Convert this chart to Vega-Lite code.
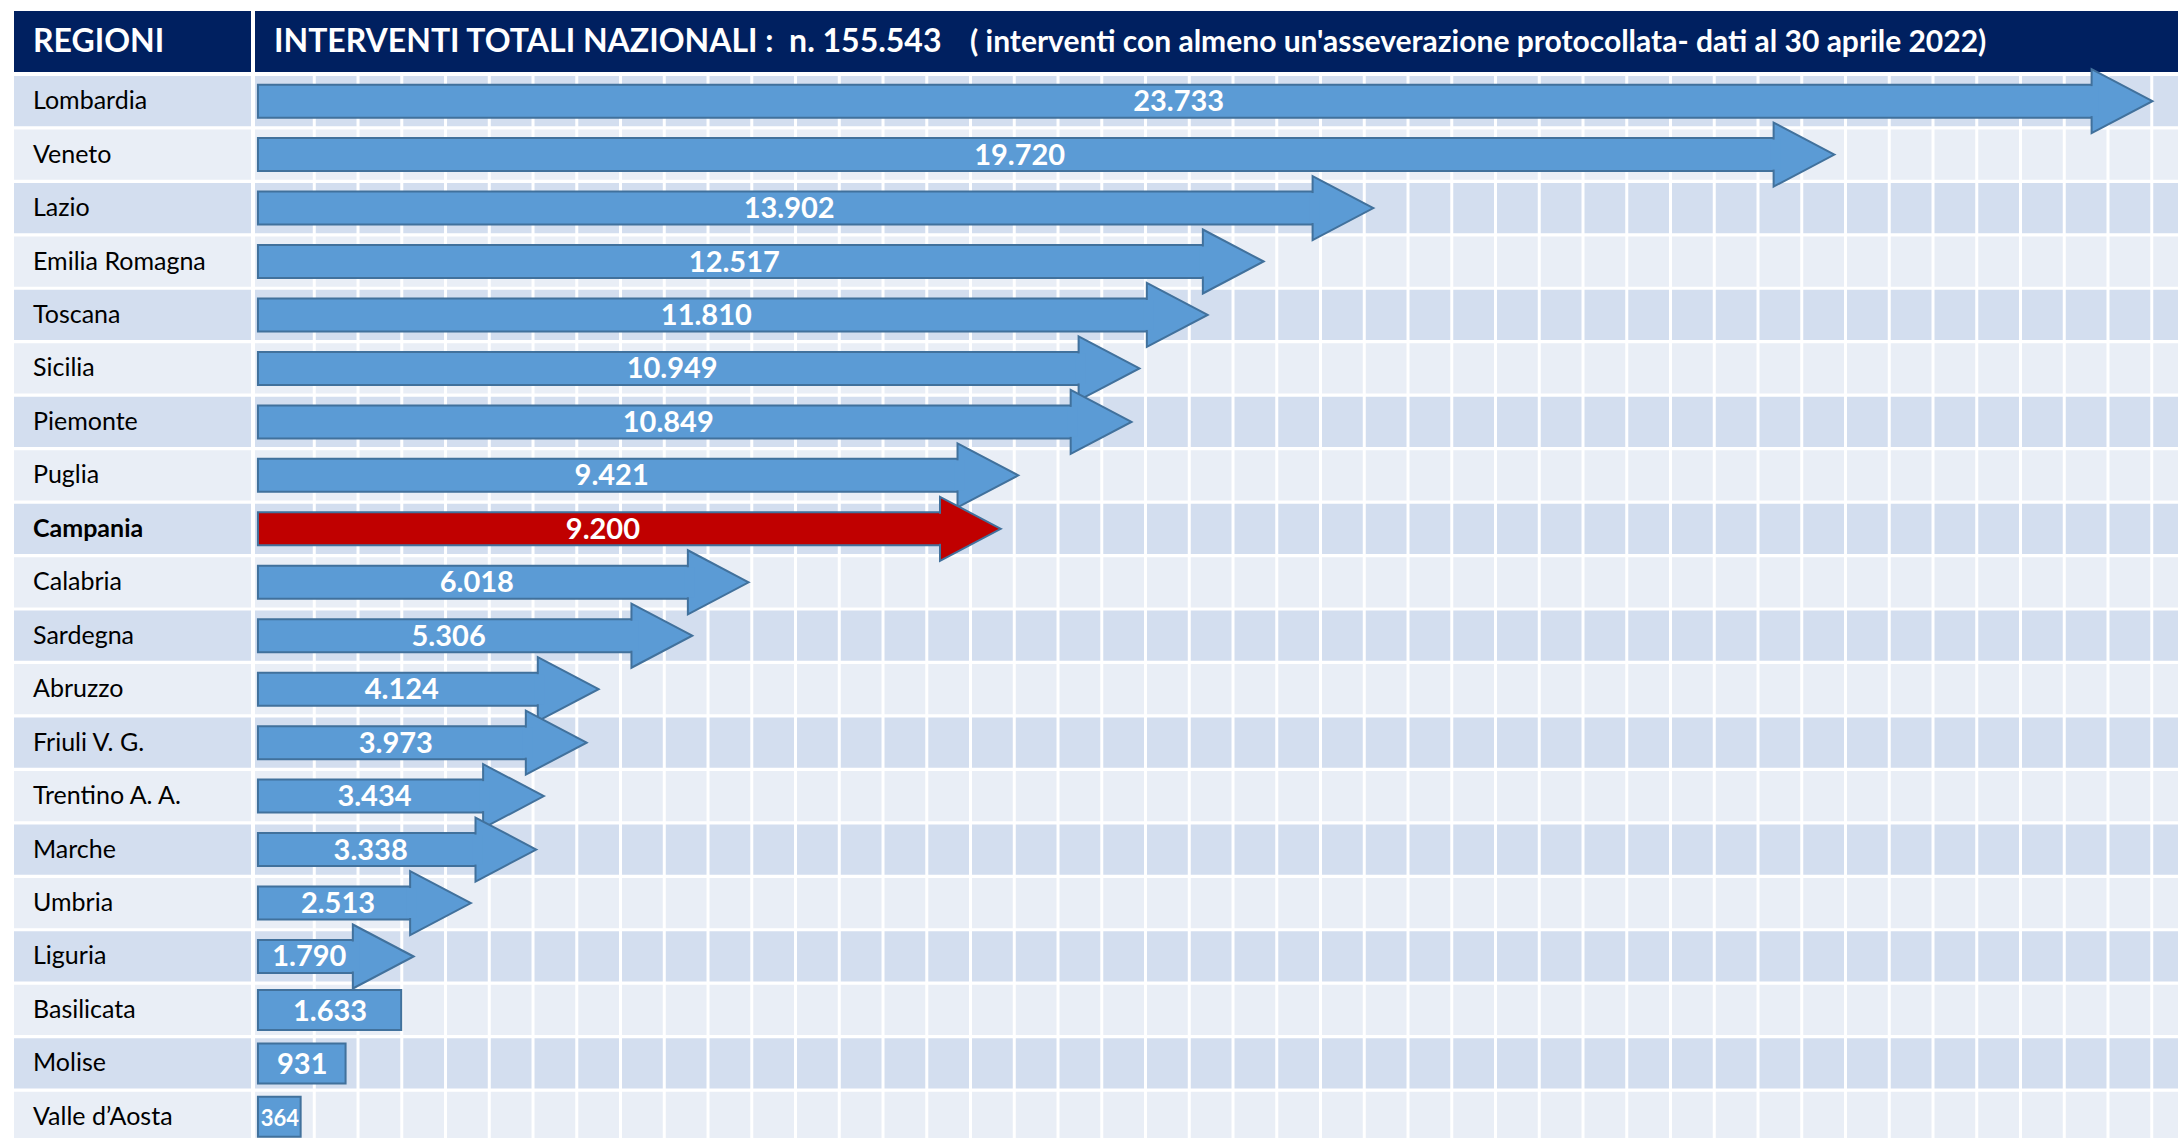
{
  "$schema": "https://vega.github.io/schema/vega-lite/v6.json",
  "background": "white",
  "padding": {"left": 14, "top": 11, "right": 0, "bottom": 0},
  "bounds": "flush",
  "columns": 2,
  "spacing": {"row": 4, "column": 4},
  "config": {
    "view": {"stroke": null},
    "font": "Lato",
    "locale": {"number": {"decimal": ",", "thousands": ".", "grouping": [3], "currency": ["€", ""]}}
  },
  "datasets": {
    "regioni": [
      {"region": "Lombardia", "value": 23733},
      {"region": "Veneto", "value": 19720},
      {"region": "Lazio", "value": 13902},
      {"region": "Emilia Romagna", "value": 12517},
      {"region": "Toscana", "value": 11810},
      {"region": "Sicilia", "value": 10949},
      {"region": "Piemonte", "value": 10849},
      {"region": "Puglia", "value": 9421},
      {"region": "Campania", "value": 9200},
      {"region": "Calabria", "value": 6018},
      {"region": "Sardegna", "value": 5306},
      {"region": "Abruzzo", "value": 4124},
      {"region": "Friuli V. G.", "value": 3973},
      {"region": "Trentino A. A.", "value": 3434},
      {"region": "Marche", "value": 3338},
      {"region": "Umbria", "value": 2513},
      {"region": "Liguria", "value": 1790},
      {"region": "Basilicata", "value": 1633},
      {"region": "Molise", "value": 931},
      {"region": "Valle d’Aosta", "value": 364}
    ],
    "grid": [
      {"g": 1}, {"g": 2}, {"g": 3}, {"g": 4}, {"g": 5}, {"g": 6}, {"g": 7}, {"g": 8}, {"g": 9}, {"g": 10},
      {"g": 11}, {"g": 12}, {"g": 13}, {"g": 14}, {"g": 15}, {"g": 16}, {"g": 17}, {"g": 18}, {"g": 19}, {"g": 20},
      {"g": 21}, {"g": 22}, {"g": 23}, {"g": 24}, {"g": 25}, {"g": 26}, {"g": 27}, {"g": 28}, {"g": 29}, {"g": 30},
      {"g": 31}, {"g": 32}, {"g": 33}, {"g": 34}, {"g": 35}, {"g": 36}, {"g": 37}, {"g": 38}, {"g": 39}, {"g": 40},
      {"g": 41}, {"g": 42}, {"g": 43}
    ]
  },
  "concat": [
    {
      "width": 237,
      "height": 61,
      "view": {"fill": "#002060", "stroke": null},
      "data": {"values": [{"h": "REGIONI"}]},
      "mark": {"type": "text", "align": "left", "baseline": "middle", "dx": 19, "fontWeight": "bold", "fontSize": 32, "color": "white"},
      "encoding": {"x": {"value": 0}, "text": {"field": "h", "type": "nominal"}}
    },
    {
      "width": 1923,
      "height": 61,
      "view": {"fill": "#002060", "stroke": null},
      "data": {"values": [{"t1": "INTERVENTI TOTALI NAZIONALI :\u00a0\u00a0n. 155.543", "t2": "(\u00a0interventi con almeno un'asseverazione protocollata- dati al 30 aprile 2022)"}]},
      "layer": [
        {
          "mark": {"type": "text", "align": "left", "baseline": "middle", "dx": 19, "fontWeight": "bold", "fontSize": 32, "color": "white"},
          "encoding": {"x": {"value": 0}, "text": {"field": "t1", "type": "nominal"}}
        },
        {
          "mark": {"type": "text", "align": "left", "baseline": "middle", "dy": 1, "fontWeight": "bold", "fontSize": 30, "color": "white"},
          "encoding": {"x": {"value": 715}, "text": {"field": "t2", "type": "nominal"}}
        }
      ]
    },
    {
      "width": 237,
      "height": 1066,
      "data": {"name": "regioni"},
      "layer": [
        {
          "mark": {"type": "rect"},
          "encoding": {
            "y": {"field": "region", "type": "nominal", "sort": null, "axis": null, "scale": {"paddingInner": 0.06, "paddingOuter": 0}},
            "fill": {"field": "region", "type": "nominal", "sort": null, "legend": null,
              "scale": {"range": ["#D3DEEF", "#E9EEF6", "#D3DEEF", "#E9EEF6", "#D3DEEF", "#E9EEF6", "#D3DEEF", "#E9EEF6", "#D3DEEF", "#E9EEF6", "#D3DEEF", "#E9EEF6", "#D3DEEF", "#E9EEF6", "#D3DEEF", "#E9EEF6", "#D3DEEF", "#E9EEF6", "#D3DEEF", "#E9EEF6"]}}
          }
        },
        {
          "transform": [{"filter": "datum.region !== 'Campania'"}],
          "mark": {"type": "text", "align": "left", "baseline": "middle", "dx": 19, "fontSize": 25, "color": "#000000"},
          "encoding": {
            "y": {"field": "region", "type": "nominal", "sort": null, "axis": null},
            "x": {"value": 0},
            "text": {"field": "region", "type": "nominal"}
          }
        },
        {
          "transform": [{"filter": "datum.region === 'Campania'"}],
          "mark": {"type": "text", "align": "left", "baseline": "middle", "dx": 19, "fontSize": 25, "fontWeight": "bold", "color": "#000000"},
          "encoding": {
            "y": {"field": "region", "type": "nominal", "sort": null, "axis": null},
            "x": {"value": 0},
            "text": {"field": "region", "type": "nominal"}
          }
        }
      ]
    },
    {
      "width": 1923,
      "height": 1066,
      "data": {"name": "regioni"},
      "resolve": {"scale": {"x": "independent"}},
      "layer": [
        {
          "mark": {"type": "rect"},
          "encoding": {
            "y": {"field": "region", "type": "nominal", "sort": null, "axis": null, "scale": {"paddingInner": 0.06, "paddingOuter": 0}},
            "fill": {"field": "region", "type": "nominal", "sort": null, "legend": null,
              "scale": {"range": ["#D3DEEF", "#E9EEF6", "#D3DEEF", "#E9EEF6", "#D3DEEF", "#E9EEF6", "#D3DEEF", "#E9EEF6", "#D3DEEF", "#E9EEF6", "#D3DEEF", "#E9EEF6", "#D3DEEF", "#E9EEF6", "#D3DEEF", "#E9EEF6", "#D3DEEF", "#E9EEF6", "#D3DEEF", "#E9EEF6"]}}
          }
        },
        {
          "data": {"name": "grid"},
          "mark": {"type": "rule", "color": "white", "strokeWidth": 3},
          "encoding": {
            "x": {"field": "g", "type": "quantitative", "axis": null, "scale": {"domain": [-0.355, 43.6], "nice": false, "zero": false}}
          }
        },
        {
          "transform": [{"filter": "datum.value >= 1700"}],
          "mark": {"type": "bar", "height": 33, "xOffset": -50, "stroke": "#41719C", "strokeWidth": 2},
          "encoding": {
            "y": {"field": "region", "type": "nominal", "sort": null, "axis": null},
            "x": {"field": "value", "type": "quantitative", "axis": null, "scale": {"domain": [-212, 24056], "nice": false, "zero": false}},
            "x2": {"datum": -175},
            "fill": {"condition": {"test": "datum.region === 'Campania'", "value": "#C00000"}, "value": "#5B9BD5"}
          }
        },
        {
          "transform": [{"filter": "datum.value >= 1700"}],
          "mark": {"type": "point", "shape": "M0,0L-1.9,-1L-1.9,1Z", "size": 4096, "filled": true, "opacity": 1, "stroke": "#41719C", "strokeWidth": 2},
          "encoding": {
            "y": {"field": "region", "type": "nominal", "sort": null, "axis": null},
            "x": {"field": "value", "type": "quantitative", "axis": null, "scale": {"domain": [-212, 24056], "nice": false, "zero": false}},
            "fill": {"condition": {"test": "datum.region === 'Campania'", "value": "#C00000"}, "value": "#5B9BD5"}
          }
        },
        {
          "transform": [{"filter": "datum.value >= 1700"}],
          "mark": {"type": "bar", "height": 30, "xOffset": -64, "x2Offset": -54},
          "encoding": {
            "y": {"field": "region", "type": "nominal", "sort": null, "axis": null},
            "x": {"field": "value", "type": "quantitative", "axis": null, "scale": {"domain": [-212, 24056], "nice": false, "zero": false}},
            "x2": {"field": "value"},
            "fill": {"condition": {"test": "datum.region === 'Campania'", "value": "#C00000"}, "value": "#5B9BD5"}
          }
        },
        {
          "transform": [{"filter": "datum.value < 1700"}],
          "mark": {"type": "bar", "height": 40, "stroke": "#41719C", "strokeWidth": 2},
          "encoding": {
            "y": {"field": "region", "type": "nominal", "sort": null, "axis": null},
            "x": {"field": "value", "type": "quantitative", "axis": null, "scale": {"domain": [-212, 24056], "nice": false, "zero": false}},
            "x2": {"datum": -175},
            "fill": {"value": "#5B9BD5"}
          }
        },
        {
          "transform": [{"filter": "datum.value >= 1700"}],
          "mark": {"type": "text", "align": "center", "baseline": "middle", "dx": -25, "dy": 1, "fontSize": 29, "fontWeight": "bold", "color": "white"},
          "encoding": {
            "y": {"field": "region", "type": "nominal", "sort": null, "axis": null},
            "x": {"field": "value", "type": "quantitative", "axis": null, "scale": {"domain": [-212, 48324], "nice": false, "zero": false}},
            "text": {"field": "value", "type": "quantitative", "format": ",d"}
          }
        },
        {
          "transform": [{"filter": "datum.value < 1700"}],
          "mark": {"type": "text", "align": "center", "baseline": "middle", "dx": 2, "dy": 2, "fontWeight": "bold", "color": "white"},
          "encoding": {
            "y": {"field": "region", "type": "nominal", "sort": null, "axis": null},
            "x": {"field": "value", "type": "quantitative", "axis": null, "scale": {"domain": [-212, 48324], "nice": false, "zero": false}},
            "text": {"field": "value", "type": "quantitative", "format": ",d"},
            "size": {"condition": {"test": "datum.value < 500", "value": 22}, "value": 29}
          }
        }
      ]
    }
  ]
}
